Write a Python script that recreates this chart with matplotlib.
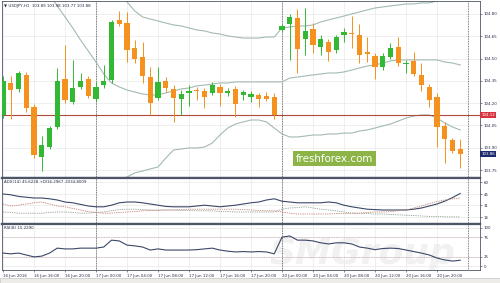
import numpy as np
import matplotlib
matplotlib.use("Agg")
import matplotlib.pyplot as plt
import matplotlib.transforms as mtrans
from matplotlib.patches import Rectangle

nan = np.nan

# --- data (USDJPY H1, 16 Jun 12:00 .. 20 Jun 23:00) ---
opens = [104.121, 104.336, 104.296, 104.390, 104.174, 103.838, 103.905, 104.040, 104.363, 104.208,
         104.309, 104.363, 104.228, 104.322, 104.356, 104.760, 104.739, 104.571, 104.511, 104.376,
         104.235, 104.349, 104.296, 104.228, 104.269, 104.289, 104.282, 104.269, 104.309, 104.269,
         104.296, 104.255, 104.242, 104.255, 104.248, 104.242, 104.692, 104.733, 104.773, 104.632,
         104.699, 104.578, 104.612, 104.558, 104.659, 104.672, 104.659, 104.544, 104.517, 104.443,
         104.511, 104.578, 104.464, 104.484, 104.390, 104.309, 104.242, 104.047, 103.952, 103.892]
highs = [104.383, 104.383, 104.417, 104.410, 104.195, 103.979, 104.047, 104.437, 104.591, 104.491,
         104.403, 104.383, 104.343, 104.457, 104.760, 104.820, 104.813, 104.625, 104.612, 104.443,
         104.443, 104.376, 104.322, 104.289, 104.322, 104.309, 104.302, 104.343, 104.329, 104.302,
         104.316, 104.289, 104.282, 104.269, 104.275, 104.269, 104.733, 104.800, 104.833, 104.840,
         104.739, 104.659, 104.632, 104.659, 104.706, 104.786, 104.733, 104.645, 104.538, 104.538,
         104.605, 104.645, 104.491, 104.544, 104.470, 104.329, 104.269, 104.074, 103.966, 103.959]
lows = [104.100, 104.094, 104.275, 104.141, 103.831, 103.744, 103.892, 104.027, 104.201, 104.195,
        104.296, 104.235, 104.208, 104.302, 104.336, 104.719, 104.477, 104.470, 104.336, 104.121,
        104.222, 104.275, 104.074, 104.121, 104.181, 104.222, 104.168, 104.255, 104.181, 104.248,
        104.107, 104.222, 104.208, 104.174, 104.215, 104.094, 104.679, 104.491, 104.403, 104.524,
        104.538, 104.524, 104.484, 104.538, 104.612, 104.571, 104.470, 104.477, 104.363, 104.423,
        104.497, 104.450, 104.403, 104.383, 104.282, 104.174, 103.905, 103.798, 103.865, 103.764]
closes = [104.349, 104.289, 104.403, 104.168, 103.852, 103.919, 104.033, 104.349, 104.222, 104.302,
          104.349, 104.248, 104.309, 104.349, 104.746, 104.733, 104.558, 104.497, 104.383, 104.201,
          104.343, 104.302, 104.235, 104.262, 104.282, 104.282, 104.242, 104.322, 104.269, 104.282,
          104.195, 104.275, 104.262, 104.228, 104.228, 104.121, 104.719, 104.780, 104.565, 104.686,
          104.591, 104.632, 104.544, 104.645, 104.679, 104.665, 104.524, 104.531, 104.443, 104.517,
          104.571, 104.470, 104.470, 104.396, 104.322, 104.222, 104.040, 103.959, 103.879, 103.858]

bb_upper = [nan] * 15 + [
    104.948, 104.881, 104.820, 104.780, 104.766, 104.753, 104.739, 104.726, 104.719, 104.706,
    104.692, 104.686, 104.672, 104.665, 104.652, 104.645, 104.638, 104.638, 104.638, 104.645,
    104.645, 104.706, 104.712, 104.719, 104.719, 104.726, 104.746, 104.760, 104.773, 104.786,
    104.800, 104.813, 104.827, 104.840, 104.847, 104.854, 104.860, 104.867, 104.867, 104.874,
    104.874, 104.887, 104.907, 104.928, 104.948]
bb_middle = [nan] * 5 + [
    105.002, 104.928, 104.854, 104.780, 104.706, 104.625, 104.551, 104.477, 104.396, 104.336,
    104.309, 104.289, 104.275, 104.262, 104.255, 104.255, 104.269, 104.282, 104.296, 104.302,
    104.316, 104.322, 104.329, 104.336, 104.336, 104.343, 104.343, 104.343, 104.343, 104.343,
    104.343, 104.343, 104.369, 104.376, 104.383, 104.390, 104.396, 104.403, 104.403, 104.410,
    104.423, 104.437, 104.450, 104.457, 104.470, 104.484, 104.491, 104.491, 104.491, 104.491,
    104.491, 104.491, 104.477, 104.470, 104.457]
bb_lower = [nan] * 15 + [
    103.677, 103.704, 103.731, 103.744, 103.758, 103.771, 103.831, 103.885, 103.892, 103.899,
    103.899, 103.905, 103.932, 103.986, 104.033, 104.060, 104.074, 104.087, 104.087, 104.074,
    104.033, 103.993, 103.973, 103.973, 103.979, 103.986, 103.986, 103.993, 103.993, 103.999,
    103.999, 104.013, 104.020, 104.033, 104.047, 104.060, 104.080, 104.100, 104.114, 104.121,
    104.121, 104.100, 104.067, 104.040, 104.020]

adx = [45, 44, 42, 41, 40, 40, 39, 37.5, 35, 34, 32, 30, 29, 29, 31, 34, 35, 35, 34, 32.5,
       31, 29.5, 29, 29, 29, 30, 31, 30, 29, 30, 31, 32.5, 34, 35, 37.5, 39, 36, 35, 34, 34,
       34, 34, 35, 34, 31, 29, 27.5, 26, 25.5, 25, 25, 25, 25, 26, 27.5, 30, 32.5, 36, 40.5, 45.6]
plus_di = [22.5, 22, 21, 21, 21, 21, 22, 22.5, 22.5, 22, 21, 21, 22, 22.5, 24, 25.5, 26, 26, 25.5, 25,
           25, 25, 25, 24.5, 24.5, 24, 24, 24, 23, 23, 22.5, 22.5, 22.5, 22.5, 22.5, 22.5, 26, 27.5, 28, 29,
           27.5, 26, 25, 24, 22.5, 21, 21, 20.5, 20, 20, 19.5, 19, 18.5, 18, 17.5, 17, 17, 16.5, 16.5, 16.3]
minus_di = [32.5, 30, 31, 32.5, 34, 35, 32.5, 30, 29, 27, 25, 23, 22, 21, 21, 22, 22.5, 23, 24, 24.5,
            24.5, 25, 25, 25.5, 26, 26, 26, 26, 26, 26, 26, 25.5, 25, 24.5, 24, 24, 22.5, 21, 20, 20,
            20, 20, 20, 20.5, 20.5, 21, 21, 22, 22.5, 22.5, 23, 24, 25, 27.5, 30, 33, 35.5, 37.5, 39, 40]
rsi = [34, 32, 34, 29, 24, 26, 34, 47, 45, 45, 47, 47, 47, 50, 68, 66, 55, 53, 50, 42,
       45, 42, 42, 42, 42, 43, 45, 47, 42, 39, 37, 38, 37, 38, 37, 32, 76, 79, 68, 68,
       66, 61, 58, 61, 61, 58, 50, 47, 43, 46, 47, 46, 42, 38, 34, 29, 21, 16, 13, 15.2]

time_labels = ["16 Jun 2016", "16 Jun 16:00", "16 Jun 20:00", "17 Jun 00:00", "17 Jun 04:00",
               "17 Jun 08:00", "17 Jun 12:00", "17 Jun 16:00", "17 Jun 20:00", "20 Jun 00:00",
               "20 Jun 04:00", "20 Jun 08:00", "20 Jun 12:00", "20 Jun 16:00", "20 Jun 20:00"]
price_ticks = [104.80, 104.65, 104.50, 104.35, 104.20, 104.05, 103.90, 103.75]
adx_ticks = [60, 45, 31, 16]
rsi_ticks = [100, 75, 25, 0]
level_price = 104.12
last_price = 103.86
day_breaks = [12, 36, 60]

# --- style ---
GREEN = "#33b833"
ORANGE = "#f5911e"
BAND = "#a3bab2"
FRAME = "#4d5566"
GRID = "#e9e9e9"
TXT = "#2b2d4a"
FS = 2.9

n = len(opens)
x = np.arange(n)
xmin, xmax = -0.13, 61.55

fig = plt.figure(figsize=(5.0, 2.83), dpi=100)
fig.patch.set_facecolor("white")

L, Wd = 2 / 500, 478 / 500
def fy(px):
    return 1 - px / 283

ax = fig.add_axes([L, fy(178), Wd, fy(1) - fy(178)])
ax_adx = fig.add_axes([L, fy(224), Wd, fy(178) - fy(224)], sharex=ax)
ax_rsi = fig.add_axes([L, fy(270), Wd, fy(224) - fy(270)], sharex=ax)

for a in (ax, ax_adx, ax_rsi):
    a.set_facecolor("white")
    for s in a.spines.values():
        s.set_color(FRAME)
        s.set_linewidth(0.6)
    a.yaxis.tick_right()
    a.tick_params(axis="y", labelsize=FS, colors=TXT, length=1.5, width=0.4, pad=1)
    a.tick_params(axis="x", length=0)
    a.set_xticks(np.arange(0, n, 4))
    a.grid(True, color=GRID, lw=0.5)
    a.set_axisbelow(True)
    for d in day_breaks:
        a.axvline(d, color="#333333", lw=0.5, ls=(0, (1.2, 1.2)), zorder=1)
ax.spines["bottom"].set_linewidth(1.6)
ax_adx.spines["bottom"].set_linewidth(1.6)
ax_adx.spines["top"].set_linewidth(1.6)
ax_rsi.spines["top"].set_linewidth(1.6)

# --- main price panel ---
ax.set_xlim(xmin, xmax)
ax.set_ylim(103.697, 104.887)
ax.set_yticks(price_ticks)
ax.set_yticklabels([f"{p:.2f}" for p in price_ticks])
ax.tick_params(axis="x", labelbottom=False)

ax.plot(x, bb_upper, color=BAND, lw=0.8, zorder=2)
ax.plot(x, bb_middle, color=BAND, lw=0.8, zorder=2)
ax.plot(x, bb_lower, color=BAND, lw=0.8, zorder=2)

o = np.array(opens); c = np.array(closes)
cols = [GREEN if cc >= oo else ORANGE for oo, cc in zip(o, c)]
ax.vlines(x, lows, highs, colors=cols, lw=0.7, zorder=3)
body_h = np.maximum(np.abs(c - o), 0.004)
ax.bar(x, body_h, bottom=np.minimum(o, c), width=0.7, color=cols, lw=0, zorder=4)

ax.axhline(level_price, color="#b04a3c", lw=0.8, zorder=2)

tr = mtrans.blended_transform_factory(ax.transAxes, ax.transData)
ax.text(1.003, level_price, f"{level_price:.2f}", transform=tr, fontsize=FS, color="white",
        va="center", ha="left", bbox=dict(facecolor="#d8343f", edgecolor="none", pad=0.8))
ax.text(1.003, last_price, f"{last_price:.2f}", transform=tr, fontsize=FS, color="white",
        va="center", ha="left", bbox=dict(facecolor="#1d2a6b", edgecolor="none", pad=0.8))

ax.text(0.004, 0.985, "\u25bc USDJPY,H1  103.89 103.98 103.77 103.88", transform=ax.transAxes,
        fontsize=FS, color=TXT, va="top", ha="left", zorder=6)

ax.text(0.6955, 0.11, "freshforex.com", transform=ax.transAxes, fontsize=7.4, color="white",
        ha="center", va="center", zorder=7,
        bbox=dict(facecolor="#8cb446", edgecolor="none", boxstyle="square,pad=0.25"))

# --- ADX panel ---
ax_adx.set_ylim(7.5, 65)
ax_adx.set_yticks(adx_ticks)
ax_adx.tick_params(axis="x", labelbottom=False)
ax_adx.plot(x, adx, color="#3b4868", lw=0.8, zorder=3)
ax_adx.plot(x, plus_di, color="#8f9f90", lw=0.6, ls=(0, (1.5, 1.2)), zorder=3)
ax_adx.plot(x, minus_di, color="#c4806e", lw=0.6, ls=(0, (1.5, 1.2)), zorder=3)
ax_adx.text(0.004, 0.95, "ADX(14) 45.6228 +DI16.2967 -DI34.8009", transform=ax_adx.transAxes,
            fontsize=FS, color=TXT, va="top", ha="left")

# --- RSI panel ---
ax_rsi.set_ylim(-10.5, 110.5)
ax_rsi.set_yticks(rsi_ticks)
ax_rsi.text(0.56, 0.35, "SMGroup", transform=ax_rsi.transAxes, fontsize=26, fontstyle="italic",
            fontweight="bold", color="#f1f1f1", ha="left", va="center", zorder=0, clip_on=False)
for lv in (75, 25):
    ax_rsi.axhline(lv, color="#c49a9a", lw=0.5, ls=(0, (1.2, 1.2)), zorder=2)
ax_rsi.plot(x, rsi, color="#3b4868", lw=0.8, zorder=3)
ax_rsi.text(0.004, 0.95, "RSI(8) 15.2290", transform=ax_rsi.transAxes,
            fontsize=FS, color=TXT, va="top", ha="left")
ax_rsi.set_xticklabels(time_labels)
ax_rsi.tick_params(axis="x", labelsize=FS, colors=TXT, length=1.5, width=0.4, pad=1.5)
for lab in ax_rsi.get_xticklabels():
    lab.set_ha("left")

# bottom tab strip
fig.patches.append(Rectangle((0, 0), 1, 5 / 283, transform=fig.transFigure,
                             facecolor="#eeece8", edgecolor="#b8b8b8", lw=0.4))

fig.savefig("out.png", dpi=100)
